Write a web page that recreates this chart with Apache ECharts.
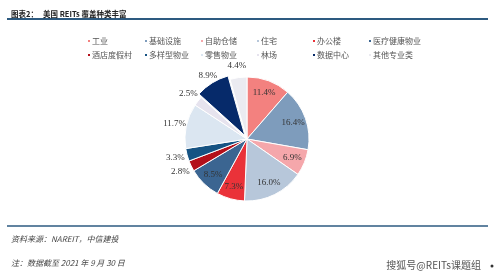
<!DOCTYPE html>
<html><head><meta charset="utf-8">
<script src="https://cdn.jsdelivr.net/npm/echarts@6/dist/echarts.min.js"></script>
<style>html,body{margin:0;padding:0;background:#fff}#c{width:499px;height:273px}</style>
</head><body><div id="c"></div>
<script>
const categories = ['工业','基础设施','自助仓储','住宅','办公楼','医疗健康物业','酒店度假村','多样型物业','零售物业','林场','数据中心','其他专业类'];
const shares = [11.4,16.4,6.9,16.0,7.3,8.5,2.8,3.3,11.7,2.5,8.9,4.4];
const colors = ['#f3817f','#7e9cbc','#f5a7ab','#b7c7da','#ea3239','#3b6591','#b3101a','#165383','#dbe6f1','#e6e3ee','#062a6a','#ebebf1'];
const outsideLabels = ['酒店度假村','多样型物业','零售物业','林场','数据中心','其他专业类'];
const explodedItem = '数据中心';
const legendColumns = [['工业','酒店度假村'],['基础设施','多样型物业'],['自助仓储','零售物业'],['住宅','林场'],['办公楼','数据中心'],['医疗健康物业','其他专业类']];
const legendLeft = [81,138,194,250,306,362];

const font = '"Noto Sans CJK SC", sans-serif';
const labelFont = '"Liberation Serif", serif';
const chart = echarts.init(document.getElementById('c'), null, {renderer:'canvas'});
const fillData = categories.map((n,i)=>({
  name:n, value:shares[i], selected: n===explodedItem, itemStyle:{color:colors[i]}
}));
const innerData = categories.map((n,i)=>({
  name:n, value:shares[i], label:{show: !outsideLabels.includes(n)}
}));
const outerData = categories.map((n,i)=>({
  name:n, value:shares[i], label:{show: outsideLabels.includes(n)}
}));
const labelSeries = (radius, data) => ({
  type:'pie', center:[247,139], radius:radius, startAngle:90, clockwise:true,
  emphasis:{disabled:true}, silent:true, legendHoverLink:false,
  itemStyle:{color:'rgba(0,0,0,0)', borderWidth:0},
  labelLine:{show:false},
  labelLayout:{hideOverlap:false},
  label:{position:'inside', formatter: p=>p.value.toFixed(1)+'%', fontSize:9, color:'#333', fontFamily:labelFont},
  data: data
});
chart.setOption({
  animation:false,
  backgroundColor:'#fff',
  color: colors,
  title:[
    {text:'图表2：   美国 REITs 覆盖种类丰富', left:6, top:5, textStyle:{fontSize:7.5, fontWeight:'bold', color:'#222', fontFamily:font}},
    {text:'资料来源：NAREIT，中信建投', left:6, top:230, textStyle:{fontSize:8, fontWeight:'normal', fontStyle:'italic', color:'#444', fontFamily:font}},
    {text:'注：数据截至 2021 年 9 月 30 日', left:6, top:254, textStyle:{fontSize:8, fontWeight:'normal', fontStyle:'italic', color:'#444', fontFamily:font}},
    {text:'搜狐号@REITs课题组', right:13, top:255, textStyle:{fontSize:10, fontWeight:'normal', color:'#555', fontFamily:font}}
  ],
  legend: legendColumns.map((col,i)=>({
    data: col, orient:'vertical', left: legendLeft[i], top:31,
    itemWidth:4, itemHeight:4, itemGap:4, icon:'rect', selectedMode:false,
    textStyle:{fontSize:8, color:'#555', fontFamily:font, lineHeight:10, padding:[0,0,0,-4]}
  })),
  graphic:[
    {type:'line', shape:{x1:7,y1:19,x2:488,y2:19}, style:{stroke:'#2d5a80', lineWidth:2}},
    {type:'line', shape:{x1:7,y1:226,x2:488,y2:226}, style:{stroke:'#2d5a80', lineWidth:1.5}},
    {type:'circle', shape:{cx:492,cy:266,r:1.5}, style:{fill:'#333'}}
  ],
  series:[{
    type:'pie', center:[247,139], radius:62, startAngle:90, clockwise:true,
    selectedMode:'single', selectedOffset:4,
    emphasis:{disabled:true}, silent:true,
    itemStyle:{borderColor:'#fff', borderWidth:1},
    label:{show:false}, labelLine:{show:false},
    data: fillData
  },
  labelSeries([30,62], innerData),
  labelSeries([62,80], outerData)
  ]
});
</script></body></html>
